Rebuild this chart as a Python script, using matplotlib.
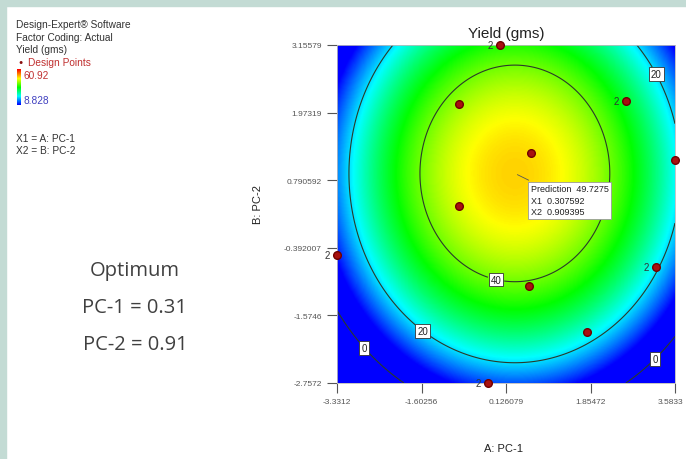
import numpy as np
import matplotlib
matplotlib.use("Agg")
import matplotlib.pyplot as plt
import matplotlib.transforms as mtrans
from matplotlib.colors import LinearSegmentedColormap, Normalize
from matplotlib.patches import Rectangle

# axis ticks (as printed by the software)
x_ticks = [-3.3312, -1.60256, 0.126079, 1.85472, 3.5833]
x_tick_labels = ["-3.3312", "-1.60256", "0.126079", "1.85472", "3.5833"]
y_ticks = [3.15579, 1.97319, 0.790592, -0.392007, -1.5746, -2.7572]
y_tick_labels = ["3.15579", "1.97319", "0.790592", "-0.392007", "-1.5746", "-2.7572"]

# fitted response surface (quadratic, centred on the optimum)
y_max = 49.7275
opt_x1 = 0.307592
opt_x2 = 0.909395
curv_x1 = 2.58
curv_x2 = 2.71
y_low = 8.828
y_high = 60.92
contour_levels = [0, 20, 40]

# design points (replicated ones get a "2")
pts_x1 = [0.0, -0.835, -0.835, 0.638, 2.581, 3.5833, -3.3312, 0.597, 1.783, 3.195, -0.242]
pts_x2 = [3.15579, 2.124, 0.339, 1.266, 2.176, 1.144, -0.518, -1.060, -1.865, -0.728, -2.7572]
pts_rep = [2, 1, 1, 1, 2, 1, 2, 1, 1, 2, 2]

# contour label spots
label_spots = [(3.216, 2.648), (-0.058, -0.868), (-1.531, -1.795), (-2.738, -2.110), (3.113, -2.285)]

W, H = 686, 460
fig = plt.figure(figsize=(W / 100, H / 100), dpi=100)
plt.rcParams['font.family'] = ['Liberation Sans', 'DejaVu Sans']

# teal frame strips
border = "#c3dbd4"
fig.patches.append(Rectangle((0, 1 - 7 / H), 1, 7 / H, transform=fig.transFigure, color=border, zorder=0))
fig.patches.append(Rectangle((0, 0), 6 / W, 1, transform=fig.transFigure, color=border, zorder=0))

de_cmap = LinearSegmentedColormap.from_list(
    "de", [(0, "#0000ff"), (0.24, "#00ffff"), (0.49, "#00ff00"), (0.74, "#ffff00"), (1.0, "#ff0000")])

ax = fig.add_axes([337 / W, 1 - 384 / H, 338 / W, 338 / H])
x1 = np.linspace(x_ticks[0], x_ticks[-1], 300)
x2 = np.linspace(y_ticks[-1], y_ticks[0], 300)
X1, X2 = np.meshgrid(x1, x2)
Z = y_max - curv_x1 * (X1 - opt_x1) ** 2 - curv_x2 * (X2 - opt_x2) ** 2

ax.imshow(Z, extent=[x1[0], x1[-1], x2[0], x2[-1]], origin="lower", cmap=de_cmap,
          norm=Normalize(y_low, y_high), aspect="auto", interpolation="bilinear")
cs = ax.contour(X1, X2, Z, levels=contour_levels, colors="#2a3a2a", linewidths=0.8)
labels = ax.clabel(cs, fmt="%d", fontsize=7, manual=label_spots, inline=True, inline_spacing=3)
for t in labels:
    t.set_rotation(0)
    t.set_bbox(dict(boxstyle="square,pad=0.2", fc="white", ec="#333333", lw=0.6))
    t.set_color("#222222")

ax.plot(pts_x1, pts_x2, "o", color="#a81010", mec="#700000", ms=5.5, clip_on=False, zorder=5)
for px, py, r in zip(pts_x1, pts_x2, pts_rep):
    if r > 1:
        ax.annotate(str(r), (px, py), xytext=(-7, 0), textcoords="offset points",
                    ha="center", va="center", fontsize=7, color="#333333",
                    annotation_clip=False, zorder=6)

ax.annotate("Prediction  49.7275\nX1  0.307592\nX2  0.909395", (opt_x1, opt_x2),
            xytext=(16, -11), textcoords="offset pixels", ha="left", va="top",
            fontsize=6.5, color="#222222", linespacing=1.35,
            bbox=dict(boxstyle="square,pad=0.3", fc="white", ec="#999999", lw=0.6),
            arrowprops=dict(arrowstyle="-", color="#555555", lw=0.6), zorder=7)

ax.set_xlim(x_ticks[0], x_ticks[-1])
ax.set_ylim(y_ticks[-1], y_ticks[0])
ax.set_xticks(x_ticks)
ax.set_xticklabels(x_tick_labels)
ax.set_yticks(y_ticks)
ax.set_yticklabels(y_tick_labels)
ax.tick_params(labelsize=6, colors="#555555", length=7, width=0.8, pad=4)
for s in ax.spines.values():
    s.set_color("#bbbbbb")
    s.set_linewidth(0.6)
# keep the last x label inside the picture
last = ax.get_xticklabels()[-1]
last.set_transform(last.get_transform() + mtrans.ScaledTranslation(-3 / 72, 0, fig.dpi_scale_trans))

ax.set_title("Yield (gms)", fontsize=11, color="#222222", pad=6)
fig.text(504 / W, 1 - 449 / H, "A: PC-1", fontsize=8, color="#222222", ha="center", va="center")
fig.text(258 / W, 1 - 205 / H, "B: PC-2", fontsize=8, color="#222222", ha="center", va="center",
         rotation=90)

# left legend block
tx = 16 / W
fs = 7.3
fig.text(tx, 1 - 25 / H, "Design-Expert® Software", fontsize=fs, color="#333333", va="center")
fig.text(tx, 1 - 38 / H, "Factor Coding: Actual", fontsize=fs, color="#333333", va="center")
fig.text(tx, 1 - 50 / H, "Yield (gms)", fontsize=fs, color="#333333", va="center")
fig.text(21 / W, 1 - 63 / H, "\u25cf", fontsize=5, color="#8a1010", va="center", ha="center")
fig.text(28 / W, 1 - 63 / H, "Design Points", fontsize=fs, color="#c03030", va="center")
cax = fig.add_axes([17 / W, 1 - 106 / H, 4 / W, 36 / H])
cax.imshow(np.linspace(1, 0, 64).reshape(-1, 1), cmap=de_cmap, aspect="auto")
cax.axis("off")
fig.text(23 / W, 1 - 76 / H, "60.92", fontsize=fs, color="#c03030", va="center")
fig.text(23 / W, 1 - 101 / H, "8.828", fontsize=fs, color="#4040c0", va="center")
fig.text(tx, 1 - 139 / H, "X1 = A: PC-1", fontsize=fs, color="#333333", va="center")
fig.text(tx, 1 - 151 / H, "X2 = B: PC-2", fontsize=fs, color="#333333", va="center")

# optimum summary
for yy, s in [(271, "Optimum"), (308, "PC-1 = 0.31"), (345, "PC-2 = 0.91")]:
    fig.text(135 / W, 1 - yy / H, s, fontsize=14.5, color="#404040", ha="center", va="center",
             family=["Open Sans", "DejaVu Sans"])

fig.savefig("out.png", dpi=100)
